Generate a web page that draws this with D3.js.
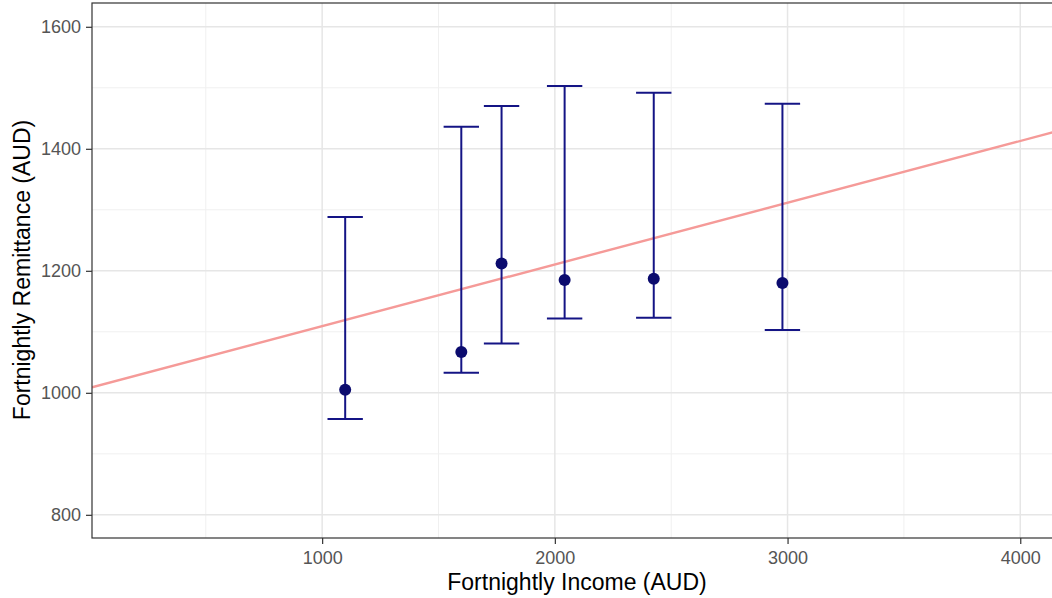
<!DOCTYPE html>
<html><head><meta charset="utf-8">
<script src="https://cdn.jsdelivr.net/npm/d3@7"></script>
<style>body{margin:0;background:#fff}svg{display:block}text{font-family:"Liberation Sans",Arial,sans-serif}</style>
</head><body><svg id="c" width="1052" height="598"></svg>
<script>
const income = [1099, 1598, 1771, 2042, 2425, 2978];
const meanRem = [1005, 1067, 1212, 1185, 1187, 1180];
const lowerRem = [957, 1033, 1081, 1122, 1123, 1103];
const upperRem = [1288, 1436, 1470, 1503, 1492, 1474];
const xTicks = [1000, 2000, 3000, 4000];
const xMinor = [500, 1500, 2500, 3500];
const yTicks = [800, 1000, 1200, 1400, 1600];
const yMinor = [900, 1100, 1300, 1500];
const fitIntercept = 1008, fitSlope = 0.1012;

const svg = d3.select('#c');
const L = 92, R = 1054, T = 3, B = 538;
const x = d3.scaleLinear().domain([11, 4145]).range([L, R]);
const y = d3.scaleLinear().domain([762, 1639]).range([B, T]);

const g = svg.append('g');
// minor grid
g.selectAll('.mx').data(xMinor).join('line').attr('x1', d => x(d)).attr('x2', d => x(d)).attr('y1', T).attr('y2', B).attr('stroke', '#f0f0f0').attr('stroke-width', 1);
g.selectAll('.my').data(yMinor).join('line').attr('y1', d => y(d)).attr('y2', d => y(d)).attr('x1', L).attr('x2', R).attr('stroke', '#f0f0f0').attr('stroke-width', 1);
// major grid
g.selectAll('.gx').data(xTicks).join('line').attr('x1', d => x(d)).attr('x2', d => x(d)).attr('y1', T).attr('y2', B).attr('stroke', '#e6e6e6').attr('stroke-width', 1.5);
g.selectAll('.gy').data(yTicks).join('line').attr('y1', d => y(d)).attr('y2', d => y(d)).attr('x1', L).attr('x2', R).attr('stroke', '#e6e6e6').attr('stroke-width', 1.5);

svg.append('clipPath').attr('id', 'pc').append('rect').attr('x', L).attr('y', T).attr('width', R - L).attr('height', B - T);
const p = svg.append('g').attr('clip-path', 'url(#pc)');
// fit line
p.append('line').attr('x1', x(11)).attr('x2', x(4145))
  .attr('y1', y(fitIntercept + fitSlope * 11)).attr('y2', y(fitIntercept + fitSlope * 4145))
  .attr('stroke', '#f59a98').attr('stroke-width', 2.4);

const data = income.map((v, i) => ({x: v, m: meanRem[i], lo: lowerRem[i], hi: upperRem[i]}));
const col = '#141485';
const capHalf = 76;
p.selectAll('.ev').data(data).join('line').attr('x1', d => x(d.x)).attr('x2', d => x(d.x)).attr('y1', d => y(d.lo)).attr('y2', d => y(d.hi)).attr('stroke', col).attr('stroke-width', 2);
p.selectAll('.ct').data(data).join('line').attr('x1', d => x(d.x - capHalf)).attr('x2', d => x(d.x + capHalf)).attr('y1', d => y(d.hi)).attr('y2', d => y(d.hi)).attr('stroke', col).attr('stroke-width', 2);
p.selectAll('.cb').data(data).join('line').attr('x1', d => x(d.x - capHalf)).attr('x2', d => x(d.x + capHalf)).attr('y1', d => y(d.lo)).attr('y2', d => y(d.lo)).attr('stroke', col).attr('stroke-width', 2);
p.selectAll('circle').data(data).join('circle').attr('cx', d => x(d.x)).attr('cy', d => y(d.m)).attr('r', 6).attr('fill', '#0b0b6e');

// border
svg.append('rect').attr('x', L).attr('y', T).attr('width', R - L).attr('height', B - T).attr('fill', 'none').attr('stroke', '#333').attr('stroke-width', 1.2);

// axes
const fmt = d3.format('d');
const xa = svg.append('g').attr('transform', `translate(0,${B})`).call(d3.axisBottom(x).tickValues(xTicks).tickFormat(fmt).tickSize(6).tickPadding(7));
const ya = svg.append('g').attr('transform', `translate(${L},0)`).call(d3.axisLeft(y).tickValues(yTicks).tickFormat(fmt).tickSize(6).tickPadding(5));
[xa, ya].forEach(a => {
  a.select('.domain').remove();
  a.selectAll('line').attr('stroke', '#333').attr('stroke-width', 1.2);
  a.selectAll('text').attr('fill', '#555').style('font-size', '18px');
});

svg.append('text').attr('x', 577).attr('y', 590).attr('text-anchor', 'middle').style('font-size', '23px').attr('fill', '#000').text('Fortnightly Income (AUD)');
svg.append('text').attr('transform', `translate(30,270) rotate(-90)`).attr('text-anchor', 'middle').style('font-size', '23px').attr('fill', '#000').text('Fortnightly Remittance (AUD)');
</script></body></html>
